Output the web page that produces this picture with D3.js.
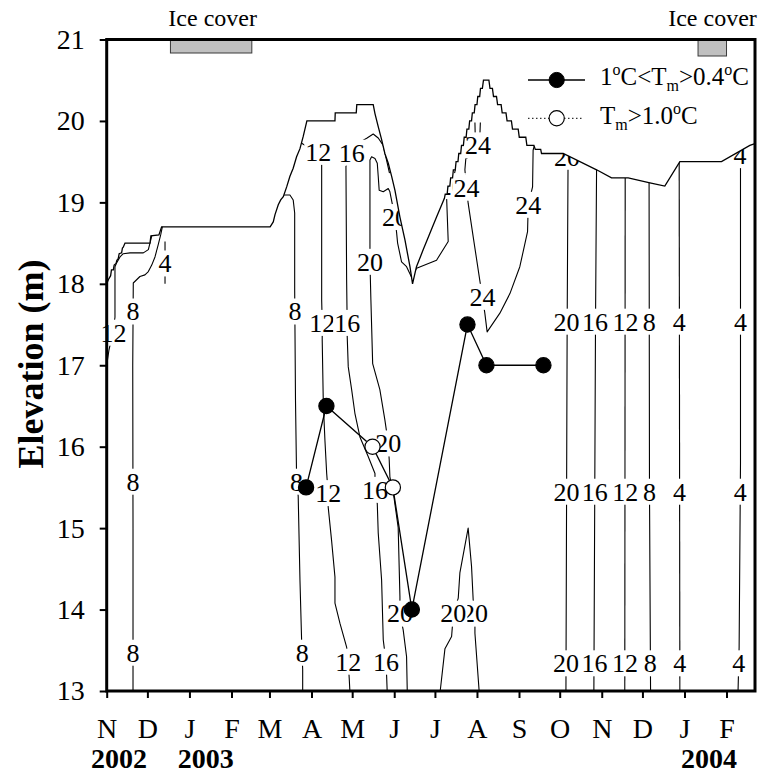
<!DOCTYPE html>
<html>
<head>
<meta charset="utf-8">
<script src="https://cdn.jsdelivr.net/npm/d3@7"></script>
<style>
  body { margin: 0; background: #fff; }
  #chart text { font-family: "Liberation Serif", "Tinos", "Times New Roman", Times, "DejaVu Serif", serif; fill: #000; }
</style>
</head>
<body>
<svg id="chart" width="763" height="778"></svg>
<script>
// ---------------------------------------------------------------
// Data
// ---------------------------------------------------------------
// Tracks below are [day, elevation (m)] with day counted from seriesStart.
const seriesStart = "2002-11-01";
const axisEnd = "2004-02-22";

const elevTicks = [13, 14, 15, 16, 17, 18, 19, 20, 21];
const monthLetters = ["J", "F", "M", "A", "M", "J", "J", "A", "S", "O", "N", "D"];
const yearLabels = ["2002", "2003", "2004"];
const yearLabelDates = ["2002-11-10", "2003-01-13", "2004-01-19"];

// Reservoir water surface
const waterLevel = [
  [0, 18.00], [1.2, 18.05], [2.9, 18.10], [3.5, 18.17], [4.9, 18.17], [5.5, 18.23], [6.9, 18.25],
  [7.5, 18.29], [8.5, 18.31], [9.2, 18.37], [11.0, 18.38], [11.6, 18.44], [12.2, 18.45], [13.5, 18.50],
  [31.9, 18.50], [32.6, 18.59], [38.5, 18.60], [40.5, 18.70],
  [120.5, 18.70], [122.8, 18.76], [124.1, 18.85], [126.5, 18.97], [128.3, 19.03], [130.2, 19.07],
  [132.7, 19.19], [135.1, 19.32], [137.5, 19.42], [140.0, 19.56], [142.5, 19.66], [144.9, 19.81],
  [147.6, 20.00], [168.3, 20.00], [168.5, 20.10], [184.0, 20.10], [184.4, 20.20], [196.5, 20.20],
  [197.8, 20.09], [200.2, 19.93], [202.7, 19.77], [205.1, 19.60], [207.6, 19.48], [210.1, 19.32],
  [212.5, 19.15], [216.2, 18.82], [219.9, 18.54], [223.6, 18.21], [225.5, 18.00],
  [228.4, 18.21], [233.4, 18.42], [238.3, 18.62], [243.2, 18.82], [249.0, 19.05],
  [249.6, 19.1], [251.0, 19.1], [251.6, 19.2], [253.0, 19.2], [253.6, 19.3], [255.0, 19.3],
  [255.6, 19.4], [257.0, 19.4], [257.6, 19.5], [259.0, 19.5], [259.6, 19.6], [261.0, 19.6],
  [261.6, 19.7], [263.0, 19.7], [263.6, 19.8], [265.0, 19.8], [265.6, 19.9], [267.0, 19.9],
  [267.6, 20.0], [269.0, 20.0], [269.6, 20.1], [271.0, 20.1], [271.6, 20.2], [273.0, 20.2],
  [273.6, 20.3], [275.0, 20.3], [275.6, 20.4], [277.0, 20.4], [277.8, 20.5], [281.8, 20.5],
  [282.6, 20.4], [284.4, 20.4], [285.2, 20.3], [287.4, 20.3], [288.2, 20.2], [290.8, 20.2],
  [291.6, 20.1], [294.4, 20.1], [295.2, 20.0], [298.4, 20.0], [299.2, 19.9], [303.4, 19.9],
  [304.2, 19.8], [309.0, 19.8], [309.8, 19.7], [315.0, 19.7], [316.0, 19.65], [320.0, 19.65],
  [320.6, 19.6], [336.6, 19.6], [361.2, 19.40], [372.2, 19.30], [384.5, 19.30], [400.5, 19.24],
  [411.5, 19.20], [422.6, 19.50], [453.3, 19.50], [474.2, 19.70], [478.0, 19.72]
];

// Isotherms (°C)
const iso12Nov = [[0, 17.00], [1.7, 17.19], [4.5, 17.40], [6.1, 17.59], [6.1, 18.21], [7.4, 18.26],
  [9.8, 18.33], [12.2, 18.37], [17.2, 18.38], [27.0, 18.38], [30.7, 18.42], [31.9, 18.50],
  [33.2, 18.59], [36.0, 18.64]];
const iso8Nov = [[19.4, 13.0], [19.4, 15.0], [19.2, 17.0], [19.6, 18.01], [24.5, 18.09], [28.2, 18.11],
  [30.7, 18.15], [33.2, 18.23], [35.6, 18.33], [38.0, 18.48], [39.8, 18.60], [41.3, 18.72]];
const iso4Dec = [[43.0, 18.52], [43.0, 18.00]];
const iso8Spring = [[128.5, 19.12], [130.2, 19.09], [135.1, 19.09], [137.5, 19.03], [138.6, 18.87],
  [138.6, 17.92], [139.2, 16.57], [140.0, 15.63], [141.2, 15.39], [142.5, 14.36], [143.7, 13.63],
  [144.5, 13.26], [144.5, 13.0]];
const iso12Spring = [[141.5, 19.80], [143.5, 19.73], [150.0, 19.66], [156.0, 19.62], [158.5, 19.50],
  [158.5, 17.80], [158.9, 17.52], [158.9, 17.31], [159.7, 16.54], [160.9, 16.08], [162.2, 15.67],
  [163.3, 15.43], [163.3, 15.26], [165.8, 14.85], [168.3, 14.40], [168.3, 14.08], [172.0, 13.83],
  [176.9, 13.54], [178.1, 13.36], [178.8, 13.16], [179.3, 13.0]];
const iso16Spring = [[208.5, 19.36], [203.9, 19.70], [200.2, 19.79], [196.5, 19.84], [192.0, 19.79],
  [186.7, 19.74], [180.6, 19.62], [176.4, 19.44], [176.9, 18.05], [177.3, 17.52], [177.3, 17.37],
  [178.1, 16.98], [180.6, 16.70], [183.0, 16.41], [186.7, 16.12], [192.8, 15.88], [197.8, 15.67],
  [197.8, 15.47], [199.5, 15.30], [200.2, 14.94], [202.7, 14.36], [203.9, 13.63], [205.9, 13.36],
  [206.4, 13.18], [206.8, 13.0]];
const iso20Summer = [[221.6, 13.0], [221.1, 13.42], [218.6, 13.75], [216.2, 13.95], [216.2, 14.16],
  [214.9, 15.01], [211.8, 15.38], [208.8, 15.63], [208.3, 15.84], [207.6, 16.04], [205.1, 16.33],
  [201.4, 16.70], [196.1, 17.02], [194.8, 17.80], [194.1, 18.27], [194.1, 19.03], [194.1, 19.52],
  [195.3, 19.56], [197.8, 19.54], [199.5, 19.48], [200.2, 19.32], [200.9, 19.15], [203.9, 19.13],
  [207.6, 19.17], [208.8, 19.13], [212.5, 18.82], [213.8, 18.62], [214.5, 18.50], [217.4, 18.27],
  [221.1, 18.21], [224.8, 18.08], [228.5, 18.19], [243.2, 18.29], [251.8, 18.52], [250.6, 19.07],
  [250.6, 19.19], [254.5, 19.20], [257.0, 19.40]];
const iso20Bottom = [[245.9, 13.0], [249.4, 13.52], [254.3, 13.67], [255.6, 13.95], [259.2, 14.14],
  [260.4, 14.45], [266.5, 15.00], [269.0, 14.53], [270.2, 14.12], [271.5, 13.95], [271.5, 13.71],
  [274.6, 13.0]];
const iso24Loop = [[258.2, 19.66], [262.6, 19.70], [270.7, 19.64], [267.8, 19.56], [264.8, 19.54],
  [264.1, 19.40], [265.3, 19.18], [266.5, 18.99], [270.2, 18.58], [275.2, 18.03], [277.0, 17.84],
  [278.8, 17.64], [280.5, 17.41], [289.9, 17.64], [297.3, 17.88], [304.6, 18.21], [310.3, 18.64],
  [310.8, 18.97], [314.0, 19.19], [314.4, 19.64], [315.7, 19.72]];
const iso24Peak = [[271.5, 19.98], [271.8, 19.75], [275.0, 19.75], [275.5, 19.98]];
const iso20Fall = [[340.2, 19.62], [339.5, 17.50], [338.6, 13.0]];
const iso16Fall = [[361.2, 19.45], [360.4, 17.50], [359.2, 13.0]];
const iso12Fall = [[382.3, 19.35], [382.0, 13.0]];
const iso8Fall = [[399.9, 19.30], [400.2, 15.50], [401.0, 13.0]];
const iso4Fall = [[422.1, 19.52], [422.6, 13.0]];
const iso4Winter = [[467.3, 19.70], [467.3, 15.80], [466.3, 13.54], [465.5, 13.0]];

// Contour labels: [text, day, elevation]
const contourLabels = [
  ["12", 5.0, 17.40],
  ["8", 19.4, 17.66], ["8", 19.4, 15.57], ["8", 19.4, 13.47],
  ["4", 43.0, 18.25],
  ["8", 138.8, 17.66], ["8", 140.0, 15.57], ["8", 144.2, 13.47],
  ["12", 156.0, 19.62], ["12", 158.9, 17.52], ["12", 163.3, 15.43], ["12", 178.1, 13.36],
  ["16", 180.6, 19.61], ["16", 177.3, 17.52], ["16", 197.8, 15.47], ["16", 205.9, 13.36],
  ["20", 194.1, 18.27], ["20", 207.6, 16.04], ["20", 212.5, 18.82], ["20", 216.2, 13.95],
  ["20", 254.5, 19.20],
  ["20", 271.5, 13.95], ["20", 255.6, 13.95],
  ["24", 273.7, 19.70], ["24", 265.3, 19.18], ["24", 277.0, 17.84], ["24", 310.8, 18.97],
  ["20", 339.3, 19.56], ["4", 467.0, 19.58],
  ["20", 339.1, 17.535], ["20", 339.1, 15.447], ["20", 338.7, 13.34],
  ["16", 360.0, 17.535], ["16", 359.8, 15.447], ["16", 359.6, 13.34],
  ["12", 382.5, 17.535], ["12", 382.3, 15.447], ["12", 382.1, 13.34],
  ["8", 400.0, 17.535], ["8", 400.2, 15.447], ["8", 400.8, 13.34],
  ["4", 422.1, 17.535], ["4", 422.3, 15.447], ["4", 422.5, 13.34],
  ["4", 467.3, 17.535], ["4", 467.2, 15.447], ["4", 466.0, 13.34]
];

// Sampled elevations (0: 1°C<Tm>0.4°C, 1: Tm>1.0°C)
const sampleDates = ["2003-03-28", "2003-04-12", "2003-05-16", "2003-05-31", "2003-06-14",
  "2003-07-25", "2003-08-08", "2003-09-19"];
const sampleElev = [15.5, 16.5, 16.0, 15.5, 14.0, 17.5, 17.0, 17.0];
const sampleClass = [0, 0, 1, 1, 0, 0, 0, 0];

// Ice cover periods
const iceStart = ["2002-12-18", "2004-01-11"];
const iceEnd = ["2003-02-16", "2004-02-01"];

// ---------------------------------------------------------------
// Scales
// ---------------------------------------------------------------
const FONT = "'Liberation Serif', 'Tinos', 'Times New Roman', Times, 'DejaVu Serif', serif";
const parse = d3.utcParse("%Y-%m-%d");
const t0 = parse(seriesStart);
const dayToDate = d => new Date(t0.getTime() + d * 864e5);

const plot = { left: 106.7, right: 755, top: 39.5, bottom: 691 };
const x = d3.scaleUtc().domain([t0, parse(axisEnd)]).range([plot.left, plot.right]);
const y = d3.scaleLinear().domain([13, 21]).range([plot.bottom, plot.top]);

const svg = d3.select("#chart");
const track = d3.line().x(p => x(dayToDate(p[0]))).y(p => y(p[1]));

// ---------------------------------------------------------------
// Isotherms
// ---------------------------------------------------------------
const isotherms = [iso12Nov, iso8Nov, iso4Dec, iso8Spring, iso12Spring, iso16Spring, iso20Summer,
  iso20Bottom, iso24Loop, iso24Peak, iso20Fall, iso16Fall, iso12Fall, iso8Fall, iso4Fall, iso4Winter];

svg.append("g")
  .selectAll("path")
  .data(isotherms)
  .join("path")
  .attr("d", track)
  .attr("fill", "none")
  .attr("stroke", "#000")
  .attr("stroke-width", 1.1)
  .attr("stroke-linejoin", "round");

// labels sit on a white patch that breaks the line underneath
const labelG = svg.append("g");
contourLabels.forEach(([txt, day, elev]) => {
  const cx = x(dayToDate(day)), cy = y(elev);
  const g = labelG.append("g");
  const rect = g.append("rect").attr("fill", "#fff");
  const t = g.append("text")
    .attr("x", cx).attr("y", cy).attr("dy", "0.34em")
    .attr("text-anchor", "middle")
    .attr("font-family", FONT)
    .attr("font-size", 26)
    .text(txt);
  const bb = t.node().getBBox();
  rect.attr("x", bb.x - 1).attr("width", bb.width + 2)
    .attr("y", cy - 13).attr("height", 26);
});

// ---------------------------------------------------------------
// Blank out everything above the water surface, then draw the surface
// ---------------------------------------------------------------
svg.append("path")
  .datum(waterLevel)
  .attr("d", d3.area()
    .x(p => x(dayToDate(p[0])))
    .y0(plot.top)
    .y1(p => y(p[1])))
  .attr("fill", "#fff");

svg.append("path")
  .datum(waterLevel)
  .attr("d", track)
  .attr("fill", "none")
  .attr("stroke", "#000")
  .attr("stroke-width", 1.3)
  .attr("stroke-linejoin", "miter");

// ---------------------------------------------------------------
// Sample series
// ---------------------------------------------------------------
const samples = sampleDates.map((d, i) => ({ date: parse(d), elev: sampleElev[i], cls: sampleClass[i] }));

svg.append("path")
  .datum(samples)
  .attr("d", d3.line().x(d => x(d.date)).y(d => y(d.elev)))
  .attr("fill", "none")
  .attr("stroke", "#000")
  .attr("stroke-width", 1.3);

svg.append("g")
  .selectAll("circle")
  .data(samples)
  .join("circle")
  .attr("cx", d => x(d.date))
  .attr("cy", d => y(d.elev))
  .attr("r", 7.6)
  .attr("fill", d => d.cls === 1 ? "#fff" : "#000")
  .attr("stroke", "#000")
  .attr("stroke-width", 1.2);

// ---------------------------------------------------------------
// Ice cover bars
// ---------------------------------------------------------------
const iceBarHeight = [13.5, 16.5];
svg.append("g")
  .selectAll("rect")
  .data(iceStart.map((s, i) => ({ s: parse(s), e: parse(iceEnd[i]), h: iceBarHeight[i] })))
  .join("rect")
  .attr("x", d => x(d.s))
  .attr("width", d => x(d.e) - x(d.s))
  .attr("y", y(21))
  .attr("height", d => d.h)
  .attr("fill", "#c0c0c0")
  .attr("stroke", "#3a3a3a")
  .attr("stroke-width", 1);

// ---------------------------------------------------------------
// Axes and frame
// ---------------------------------------------------------------
const yAxisG = svg.append("g")
  .attr("transform", `translate(${plot.left},0)`)
  .call(d3.axisLeft(y).tickValues(elevTicks).tickSize(7).tickPadding(15).tickFormat(d3.format("d")));
yAxisG.attr("font-family", FONT);
yAxisG.select(".domain").remove();
yAxisG.selectAll(".tick line").attr("stroke-width", 2);
yAxisG.selectAll(".tick text").attr("font-size", 28).attr("font-family", FONT);

const months = d3.utcMonth.range(t0, parse(axisEnd));
const xAxisG = svg.append("g")
  .attr("transform", `translate(0,${plot.bottom})`)
  .call(d3.axisBottom(x).tickValues(months).tickSize(7).tickPadding(20)
    .tickFormat(d => monthLetters[d.getUTCMonth()]));
xAxisG.attr("font-family", FONT);
xAxisG.select(".domain").remove();
xAxisG.selectAll(".tick line").attr("stroke-width", 2);
xAxisG.selectAll(".tick text").attr("font-size", 28).attr("font-family", FONT);

svg.append("rect")
  .attr("x", plot.left).attr("y", plot.top)
  .attr("width", plot.right - plot.left)
  .attr("height", plot.bottom - plot.top)
  .attr("fill", "none")
  .attr("stroke", "#000")
  .attr("stroke-width", 3);

// year captions under the month letters
svg.append("g")
  .selectAll("text")
  .data(yearLabels)
  .join("text")
  .attr("x", (d, i) => x(parse(yearLabelDates[i])))
  .attr("y", 768)
  .attr("text-anchor", "middle")
  .attr("font-family", FONT)
  .attr("font-size", 28)
  .attr("font-weight", "bold")
  .text(d => d);

// y axis title
svg.append("text")
  .attr("transform", "translate(43,364) rotate(-90)")
  .attr("text-anchor", "middle")
  .attr("font-family", FONT)
  .attr("font-size", 36)
  .attr("font-weight", "bold")
  .text("Elevation (m)");

// ice cover captions
svg.append("g")
  .selectAll("text")
  .data(iceStart.map((s, i) => ({ s: parse(s), e: parse(iceEnd[i]) })))
  .join("text")
  .attr("x", (d, i) => i === 0 ? (x(d.s) + x(d.e)) / 2 + 1.5 : 712.5)
  .attr("y", 26)
  .attr("text-anchor", "middle")
  .attr("font-family", FONT)
  .attr("font-size", 24)
  .text("Ice cover");

// ---------------------------------------------------------------
// Legend
// ---------------------------------------------------------------
const leg = svg.append("g");
leg.append("line").attr("x1", 528).attr("x2", 585).attr("y1", 80).attr("y2", 80)
  .attr("stroke", "#000").attr("stroke-width", 1.3);
leg.append("circle").attr("cx", 556.7).attr("cy", 80).attr("r", 7.6)
  .attr("fill", "#000").attr("stroke", "#000");
leg.append("line").attr("x1", 528).attr("x2", 584).attr("y1", 118.3).attr("y2", 118.3)
  .attr("stroke", "#000").attr("stroke-width", 1).attr("stroke-dasharray", "1.5,2.5");
leg.append("circle").attr("cx", 556.7).attr("cy", 118.3).attr("r", 7.6)
  .attr("fill", "#fff").attr("stroke", "#000").attr("stroke-width", 1.2);

const t1 = leg.append("text").attr("x", 600).attr("y", 85).attr("font-family", FONT).attr("font-size", 25);
t1.append("tspan").text("1");
t1.append("tspan").attr("dy", -10).attr("font-size", 16).text("o");
t1.append("tspan").attr("dy", 10).text("C<T");
t1.append("tspan").attr("dy", 6).attr("font-size", 16).text("m");
t1.append("tspan").attr("dy", -6).text(">0.4");
t1.append("tspan").attr("dy", -10).attr("font-size", 16).text("o");
t1.append("tspan").attr("dy", 10).text("C");

const t2 = leg.append("text").attr("x", 600).attr("y", 124).attr("font-family", FONT).attr("font-size", 25);
t2.append("tspan").text("T");
t2.append("tspan").attr("dy", 6).attr("font-size", 16).text("m");
t2.append("tspan").attr("dy", -6).text(">1.0");
t2.append("tspan").attr("dy", -10).attr("font-size", 16).text("o");
t2.append("tspan").attr("dy", 10).text("C");
</script>
</body>
</html>
